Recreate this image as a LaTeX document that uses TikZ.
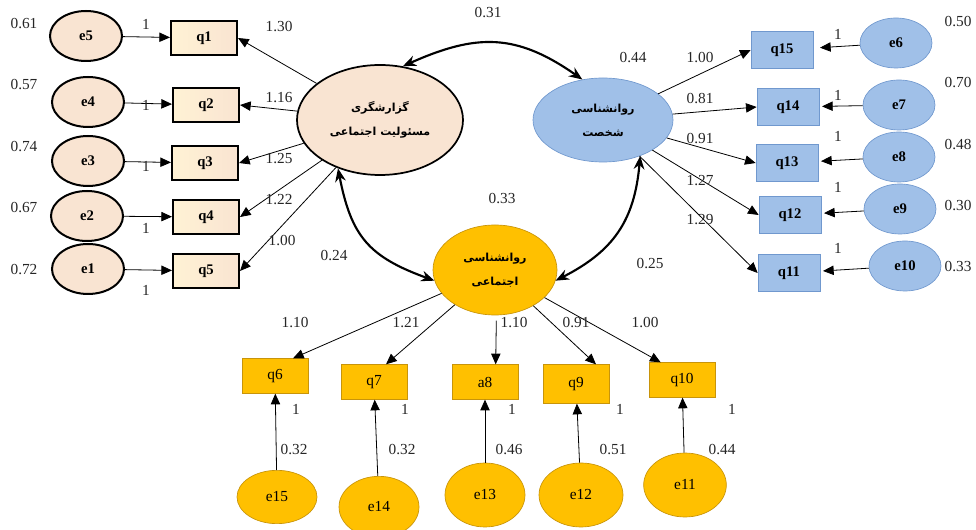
\documentclass[tikz,border=0pt]{standalone}
\usepackage{fontspec}
\setmainfont{Liberation Serif}
\newfontfamily\arabicfont[Script=Arabic]{DejaVu Sans}
\TeXXeTstate=1
\usetikzlibrary{shapes.geometric,arrows.meta}

\definecolor{peach}{RGB}{249,228,210}
\definecolor{paleyel}{RGB}{255,242,212}
\definecolor{skyfill}{RGB}{160,192,232}
\definecolor{skyline}{RGB}{112,152,206}
\definecolor{goldfill}{RGB}{255,192,0}
\definecolor{goldline}{RGB}{200,148,10}

\tikzset{
  errA/.style={ellipse, draw, line width=1.5pt, fill=peach, minimum width=54pt,
    minimum height=37.5pt, inner sep=0pt, font=\fontsize{11}{12}\selectfont\bfseries},
  itemA/.style={rectangle, draw, line width=1.5pt, left color=paleyel, right color=peach,
    minimum width=49.5pt, minimum height=26pt, inner sep=0pt, font=\fontsize{11}{12}\selectfont\bfseries},
  errB/.style={ellipse, draw=skyline, line width=0.5pt, fill=skyfill, minimum width=54pt,
    minimum height=37.5pt, inner sep=0pt, font=\fontsize{11}{12}\selectfont\bfseries},
  itemB/.style={rectangle, draw=skyline, line width=0.5pt, fill=skyfill,
    minimum width=46.5pt, minimum height=28pt, inner sep=0pt, font=\fontsize{11}{12}\selectfont\bfseries},
  errC/.style={ellipse, draw=goldline, line width=0.5pt, fill=goldfill, minimum width=60pt,
    minimum height=46pt, inner sep=0pt, font=\fontsize{11.5}{12}\selectfont},
  itemC/.style={rectangle, draw=goldline, line width=0.5pt, fill=goldfill,
    minimum width=49.5pt, minimum height=26pt, inner sep=0pt, font=\fontsize{11.5}{12}\selectfont},
  factor/.style={ellipse, inner sep=0pt, align=center,
    font=\arabicfont\bfseries\fontsize{8.3}{18}\selectfont},
  load/.style={-{Triangle[length=8pt,width=7pt]}, line width=0.6pt},
  cov/.style={{Stealth[length=10pt,width=8pt]}-{Stealth[length=10pt,width=8pt]}, line width=1.6pt},
  val/.style={font=\fontsize{11.5}{12}\selectfont, inner sep=1pt, text=black!85},
}

\begin{document}
\begin{tikzpicture}[x=0.75pt,y=-0.75pt]
  \useasboundingbox (0,0) rectangle (976,530);

  % latent factors
  \node[factor, draw, line width=1.3pt, fill=peach, minimum width=124.5pt, minimum height=82.5pt]
    (LL) at (380,120) {\beginR گزارشگری\endR\\\beginR مسئولیت اجتماعی\endR};
  \node[factor, draw=skyline, line width=0.5pt, fill=skyfill, minimum width=105pt, minimum height=63pt]
    (RL) at (603,120) {\beginR روانشناسی\endR\\\beginR شخصت\endR};
  \node[factor, draw=goldline, line width=0.5pt, fill=goldfill, minimum width=93pt, minimum height=67.5pt]
    (BL) at (495,270) {\beginR روانشناسی\endR\\\beginR اجتماعی\endR};

  % left block
  \node[errA] (e5) at (86,36) {e5};
  \node[errA] (e4) at (88,102) {e4};
  \node[errA] (e3) at (88,161) {e3};
  \node[errA] (e2) at (87,216) {e2};
  \node[errA] (e1) at (88,269) {e1};
  \node[itemA] (q1) at (204,38) {q1};
  \node[itemA] (q2) at (206,105) {q2};
  \node[itemA] (q3) at (205,163) {q3};
  \node[itemA] (q4) at (206,217) {q4};
  \node[itemA] (q5) at (206,271) {q5};

  % right block
  \node[itemB] (q15) at (782,50) {q15};
  \node[itemB] (q14) at (788,107) {q14};
  \node[itemB] (q13) at (787,163) {q13};
  \node[itemB] (q12) at (790,215) {q12};
  \node[itemB] (q11) at (789,273) {q11};
  \node[errB] (e6) at (896,43) {e6};
  \node[errB] (e7) at (899,105) {e7};
  \node[errB] (e8) at (899,157) {e8};
  \node[errB] (e9) at (900,209) {e9};
  \node[errB] (e10) at (905,266) {e10};

  % bottom block
  \node[itemC] (q6) at (275,376) {q6};
  \node[itemC] (q7) at (374,382) {q7};
  \node[itemC] (q8) at (485,382) {a8};
  \node[itemC, minimum height=29pt] (q9) at (576,384) {q9};
  \node[itemC] (q10) at (682,380) {q10};
  \node[errC, minimum height=40pt] (e15) at (277,497) {e15};
  \node[errC] (e14) at (379,507) {e14};
  \node[errC, minimum height=48pt] (e13) at (485,495) {e13};
  \node[errC, minimum width=63pt, minimum height=48pt] (e12) at (581,495) {e12};
  \node[errC, minimum width=62pt, minimum height=48pt] (e11) at (685,485) {e11};

  % error paths
  \draw[load] (e5) -- (q1);
  \draw[load] (e4) -- (q2);
  \draw[load] (e3) -- (q3);
  \draw[load] (e2) -- (q4);
  \draw[load] (e1) -- (q5);
  \draw[load, shorten >=5pt] (e6) -- (q15);
  \draw[load, shorten >=2pt] (e7) -- (q14);
  \draw[load, shorten >=2pt] (e8) -- (q13);
  \draw[load, shorten >=2pt] (e9) -- (q12);
  \draw[load, shorten >=2pt] (e10) -- (q11);
  \draw[load] (e15) -- (q6);
  \draw[load] (e14) -- (q7);
  \draw[load] (e13) -- (q8);
  \draw[load] (e12) -- (q9);
  \draw[load] (e11) -- (q10);

  % loadings
  \draw[load] (LL) -- (q1.east);
  \draw[load] (LL) -- (q2.east);
  \draw[load] (LL) -- (q3.east);
  \draw[load] (LL) -- (q4.east);
  \draw[load] (LL) -- (q5.east);
  \draw[load] (RL) -- (q15.west);
  \draw[load] (RL) -- (q14.west);
  \draw[load] (RL) -- (q13.west);
  \draw[load] (RL) -- (q12.west);
  \draw[load] (RL) -- (q11.west);
  \draw[load] (BL) -- ([xshift=13.5pt]q6.north);
  \draw[load] (BL) -- ([xshift=9pt]q7.north);
  \draw[load] ([xshift=1pt,yshift=-4pt]BL.south) -- ([xshift=8pt]q8.north);
  \draw[load] (BL) -- ([xshift=15pt]q9.north);
  \draw[load] (BL) -- ([xshift=-16pt]q10.north);

  % covariances
  \draw[cov] (LL.67) to[out=24,in=145,looseness=1.15] (RL.117);
  \draw[cov] (LL.229) to[out=-79,in=160,looseness=1.2] (BL.190);
  \draw[cov] (RL.316) to[out=-95,in=27,looseness=1.1] (BL.350);

  % values
  \node[val] (ve5) at (24,24) {0.61};
  \node[val] (ve4) at (24,85) {0.57};
  \node[val] (ve3) at (24,147) {0.74};
  \node[val] (ve2) at (24,208) {0.67};
  \node[val] (ve1) at (24,270) {0.72};
  \node[val] (fe5) at (146,24) {1};
  \node[val] (fe4) at (146,105) {1};
  \node[val] (fe3) at (146,166) {1};
  \node[val] (fe2) at (146,228) {1};
  \node[val] (fe1) at (146,290) {1};
  \node[val] (lq1) at (279,27) {1.30};
  \node[val] (lq2) at (279,98) {1.16};
  \node[val] (lq3) at (279,159) {1.25};
  \node[val] (lq4) at (279,200) {1.22};
  \node[val] (lq5) at (282,241) {1.00};

  \node[val] (cLR) at (488,13) {0.31};
  \node[val] (cLB) at (334,256) {0.24};
  \node[val] (vBL) at (502,199) {0.33};
  \node[val] (cRB) at (650,264) {0.25};
  \node[val] (vRL) at (633,58) {0.44};

  \node[val] (lq15) at (700,58) {1.00};
  \node[val] (lq14) at (700,99) {0.81};
  \node[val] (lq13) at (700,139) {0.91};
  \node[val] (lq12) at (700,181) {1.27};
  \node[val] (lq11) at (700,220) {1.29};
  \node[val] (fe6) at (838,34) {1};
  \node[val] (fe7) at (838,95) {1};
  \node[val] (fe8) at (838,136) {1};
  \node[val] (fe9) at (838,187) {1};
  \node[val] (fe10) at (838,248) {1};
  \node[val] (ve6) at (958,22) {0.50};
  \node[val] (ve7) at (958,83) {0.70};
  \node[val] (ve8) at (958,145) {0.48};
  \node[val] (ve9) at (958,206) {0.30};
  \node[val] (ve10) at (958,267) {0.33};

  \node[val] (lq6) at (295,323) {1.10};
  \node[val] (lq7) at (406,323) {1.21};
  \node[val] (lq8) at (514,323) {1.10};
  \node[val] (lq9) at (576,323) {0.91};
  \node[val] (lq10) at (645,323) {1.00};
  \node[val] (fe15) at (296,409) {1};
  \node[val] (fe14) at (405,409) {1};
  \node[val] (fe13) at (512,409) {1};
  \node[val] (fe12) at (620,409) {1};
  \node[val] (fe11) at (732,409) {1};
  \node[val] (ve15) at (294,450) {0.32};
  \node[val] (ve14) at (402,450) {0.32};
  \node[val] (ve13) at (509,450) {0.46};
  \node[val] (ve12) at (613,450) {0.51};
  \node[val] (ve11) at (722,450) {0.44};
\end{tikzpicture}
\end{document}
